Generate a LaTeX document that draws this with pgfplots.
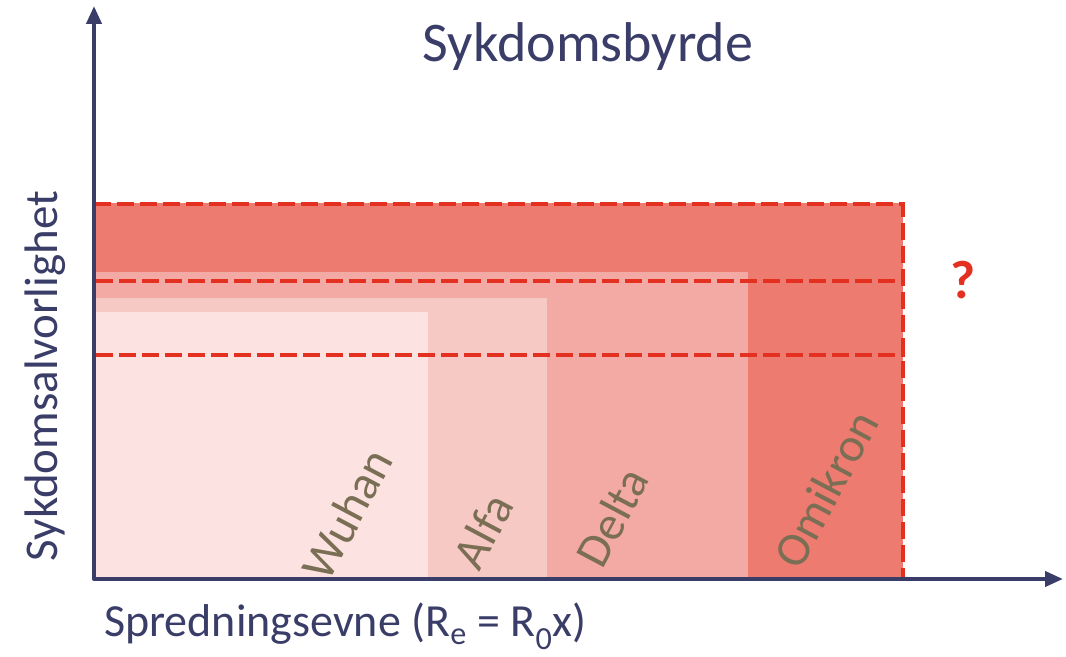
\documentclass[border=0pt]{standalone}
\usepackage{pgfplots}
\pgfplotsset{compat=1.18}
\usepackage{fontspec}
\setmainfont{Carlito}
\usetikzlibrary{arrows.meta}
\definecolor{navy}{RGB}{58,61,104}
\definecolor{olive}{RGB}{122,110,84}
\definecolor{dred}{RGB}{228,48,32}
\definecolor{cOm}{RGB}{238,123,111}
\definecolor{cDe}{RGB}{243,170,164}
\definecolor{cAl}{RGB}{247,201,196}
\definecolor{cWu}{RGB}{252,226,225}
\begin{document}
\begin{tikzpicture}
\begin{axis}[x=1bp,y=1bp,xmin=-94,xmax=972,ymin=-78,ymax=579,
  hide axis,clip=false,scale only axis]
\path (axis cs:-94,-78) rectangle (axis cs:972,579);
% variant areas: (right edge, top)
\addplot[fill=cOm,draw=none] coordinates {(0,0) (0,376) (809,376) (809,0)} -- cycle;
\addplot[fill=cDe,draw=none] coordinates {(0,0) (0,307) (654,307) (654,0)} -- cycle;
\addplot[fill=cAl,draw=none] coordinates {(0,0) (0,281) (453,281) (453,0)} -- cycle;
\addplot[fill=cWu,draw=none] coordinates {(0,0) (0,267) (334,267) (334,0)} -- cycle;
% dashed lines
\addplot[dred,line width=4.8bp,dash pattern=on 17bp off 6bp] coordinates {(0,375) (809,375) (809,0)};
\addplot[dred,line width=4.8bp,dash pattern=on 17bp off 6bp] coordinates {(2,298) (811,298)};
\addplot[dred,line width=4.8bp,dash pattern=on 17bp off 6bp] coordinates {(2,224) (811,224)};
% labels
\node[rotate=62,olive,font=\fontsize{48bp}{52bp}\selectfont] at (axis cs:253,65) {Wuhan};
\node[rotate=62,olive,font=\fontsize{48bp}{52bp}\selectfont] at (axis cs:389,48) {Alfa};
\node[rotate=62,olive,font=\fontsize{48bp}{52bp}\selectfont] at (axis cs:518,62) {Delta};
\node[rotate=62,olive,font=\fontsize{48bp}{52bp}\selectfont] at (axis cs:732,90) {Omikron};
\node[dred,font=\fontsize{54bp}{58bp}\selectfont\bfseries] at (axis cs:869,299) {?};
% axes
\draw[navy,line width=4bp,line join=round,
  {Triangle[length=18bp,width=15bp]}-{Triangle[length=18bp,width=15bp]}]
  (axis cs:0,573) -- (axis cs:0,0) -- (axis cs:969,0);
% titles
\node[navy,anchor=base,font=\fontsize{56bp}{60bp}\selectfont] at (axis cs:494,517) {Sykdomsbyrde};
\node[navy,anchor=base,rotate=90,font=\fontsize{47bp}{50bp}\selectfont] at (axis cs:-37,203) {Sykdomsalvorlighet};
\node[navy,anchor=base west,inner sep=0pt,font=\fontsize{46bp}{50bp}\selectfont] at (axis cs:10,-58) {Spredningsevne (R\textsubscript{e} = R\textsubscript{0}x)};
\end{axis}
\end{tikzpicture}
\end{document}
